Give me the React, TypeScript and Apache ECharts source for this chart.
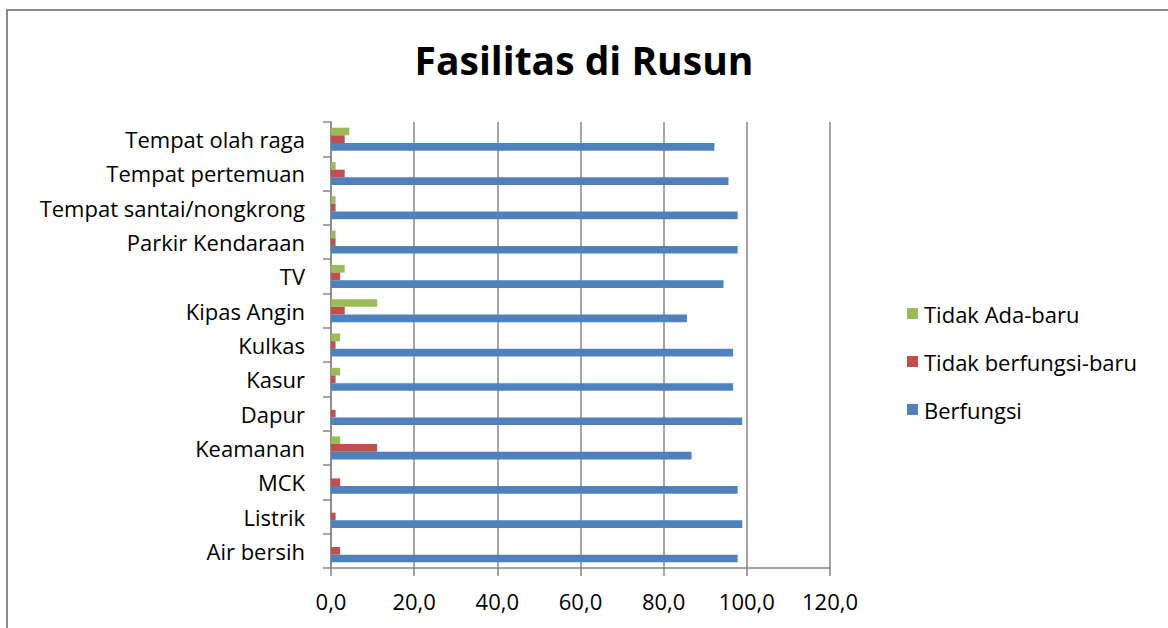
import React, { useEffect, useRef } from "react";
import * as echarts from "echarts";

const categories = [
  "Air bersih",
  "Listrik",
  "MCK",
  "Keamanan",
  "Dapur",
  "Kasur",
  "Kulkas",
  "Kipas Angin",
  "TV",
  "Parkir Kendaraan",
  "Tempat santai/nongkrong",
  "Tempat pertemuan",
  "Tempat olah raga",
];
const berfungsi = [97.8, 98.9, 97.8, 86.7, 98.9, 96.7, 96.7, 85.6, 94.4, 97.8, 97.8, 95.6, 92.2];
const tidakBerfungsiBaru = [2.2, 1.1, 2.2, 11.1, 1.1, 1.1, 1.1, 3.3, 2.2, 1.1, 1.1, 3.3, 3.3];
const tidakAdaBaru = [0, 0, 0, 2.2, 0, 2.2, 2.2, 11.1, 3.3, 1.1, 1.1, 1.1, 4.4];
const xTicks = { min: 0, max: 120, interval: 20 };

const FONT = "'Open Sans', 'Noto Sans', sans-serif";
const AXIS = "#868686";

export default function App() {
  const ref = useRef<HTMLDivElement>(null);
  useEffect(() => {
    if (!ref.current) return;
    const chart = echarts.init(ref.current, undefined, { renderer: "svg" });
    chart.setOption({
      animation: false,
      backgroundColor: "#ffffff",
      textStyle: { fontFamily: FONT },
      title: {
        text: "Fasilitas di Rusun",
        left: "center",
        top: 35,
        textStyle: { fontFamily: FONT, fontSize: 39, fontWeight: "bold", color: "#000" },
      },
      graphic: [
        {
          type: "rect",
          shape: { x: 7, y: 10, width: 1300, height: 800 },
          style: { fill: "none", stroke: "#8a8a8a", lineWidth: 2 },
          silent: true,
        },
      ],
      legend: {
        orient: "vertical",
        left: 902,
        top: 293,
        itemWidth: 11,
        itemHeight: 11,
        itemGap: 17,
        icon: "rect",
        data: ["Tidak Ada-baru", "Tidak berfungsi-baru", "Berfungsi"],
        textStyle: {
          fontFamily: FONT,
          fontSize: 22,
          lineHeight: 31,
          color: "#000",
          padding: [0, 0, 0, 1],
        },
      },
      grid: { left: 331, right: 338, top: 122, bottom: 60, containLabel: false },
      xAxis: {
        type: "value",
        min: xTicks.min,
        max: xTicks.max,
        interval: xTicks.interval,
        axisLine: { show: true, lineStyle: { color: AXIS, width: 1.5 } },
        axisTick: { show: true, length: 8, lineStyle: { color: AXIS, width: 1.5 } },
        splitLine: { show: true, lineStyle: { color: AXIS, width: 1.5 } },
        axisLabel: {
          fontFamily: FONT,
          fontSize: 22,
          color: "#000",
          margin: 22,
          formatter: (v: number) => v.toFixed(1).replace(".", ","),
        },
      },
      yAxis: {
        type: "category",
        data: categories,
        axisLine: { show: true, lineStyle: { color: AXIS, width: 1.5 } },
        axisTick: { show: true, length: 8, lineStyle: { color: AXIS, width: 1.5 } },
        axisLabel: { fontFamily: FONT, fontSize: 22, color: "#000", margin: 26 },
      },
      series: [
        {
          name: "Tidak Ada-baru",
          type: "bar",
          data: tidakAdaBaru,
          itemStyle: { color: "#9BBB59" },
          barGap: "0%",
          barCategoryGap: "33%",
        },
        {
          name: "Tidak berfungsi-baru",
          type: "bar",
          data: tidakBerfungsiBaru,
          itemStyle: { color: "#C0504D" },
          barGap: "0%",
          barCategoryGap: "33%",
        },
        {
          name: "Berfungsi",
          type: "bar",
          data: berfungsi,
          itemStyle: { color: "#4F81BD" },
          barGap: "0%",
          barCategoryGap: "33%",
        },
      ],
    });
    return () => chart.dispose();
  }, []);
  return (
    <div
      ref={ref}
      style={{ position: "absolute", left: 0, top: 0, width: 1168, height: 628 }}
    />
  );
}
